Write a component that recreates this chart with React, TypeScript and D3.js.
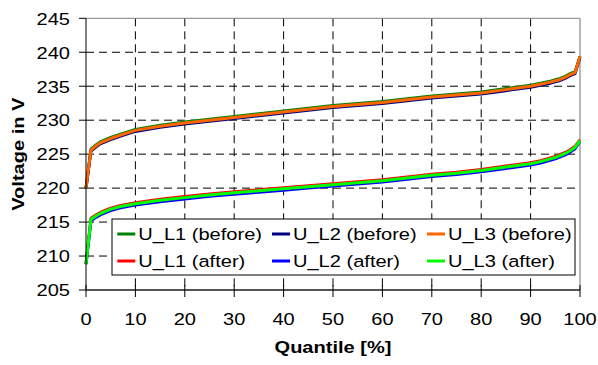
import React from 'react';
import * as d3 from 'd3';

// quantile positions [%]
const quantiles = [0, 1, 2, 3, 5, 7, 10, 15, 20, 25, 30, 35, 40, 45, 50, 55, 60, 65, 70, 75, 80, 85, 90, 92, 94, 95, 96, 97, 98, 99, 100];

// voltages in V
const uL1Before = [220.0, 225.75, 226.35, 226.85, 227.45, 227.95, 228.65, 229.25, 229.75, 230.15, 230.55, 230.95, 231.35, 231.75, 232.15, 232.45, 232.75, 233.15, 233.55, 233.85, 234.15, 234.65, 235.15, 235.45, 235.75, 235.95, 236.15, 236.45, 236.85, 237.15, 239.4];
const uL2Before = [220.0, 225.45, 226.05, 226.55, 227.15, 227.65, 228.35, 228.95, 229.45, 229.85, 230.25, 230.65, 231.05, 231.45, 231.85, 232.15, 232.45, 232.85, 233.25, 233.55, 233.85, 234.35, 234.85, 235.15, 235.45, 235.65, 235.85, 236.15, 236.55, 236.85, 239.3];
const uL3Before = [220.0, 225.6, 226.2, 226.7, 227.3, 227.8, 228.5, 229.1, 229.6, 230.0, 230.4, 230.8, 231.2, 231.6, 232.0, 232.3, 232.6, 233.0, 233.4, 233.7, 234.0, 234.5, 235.0, 235.3, 235.6, 235.8, 236.0, 236.3, 236.7, 237.0, 239.4];
const uL1After = [208.8, 215.55, 216.05, 216.45, 217.05, 217.45, 217.85, 218.35, 218.75, 219.15, 219.45, 219.75, 220.05, 220.35, 220.65, 220.95, 221.25, 221.65, 222.05, 222.35, 222.75, 223.25, 223.75, 224.05, 224.45, 224.65, 224.95, 225.25, 225.65, 226.15, 227.1];
const uL2After = [208.8, 215.2, 215.7, 216.1, 216.7, 217.1, 217.5, 218.0, 218.4, 218.8, 219.1, 219.4, 219.7, 220.0, 220.3, 220.6, 220.9, 221.3, 221.7, 222.0, 222.4, 222.9, 223.4, 223.7, 224.1, 224.3, 224.6, 224.9, 225.3, 225.8, 226.9];
const uL3After = [208.8, 215.4, 215.9, 216.3, 216.9, 217.3, 217.7, 218.2, 218.6, 219.0, 219.3, 219.6, 219.9, 220.2, 220.5, 220.8, 221.1, 221.5, 221.9, 222.2, 222.6, 223.1, 223.6, 223.9, 224.3, 224.5, 224.8, 225.1, 225.5, 226.0, 227.0];

const seriesNames = ['U_L1 (before)', 'U_L2 (before)', 'U_L3 (before)', 'U_L1 (after)', 'U_L2 (after)', 'U_L3 (after)'];
const seriesValues = [uL1Before, uL2Before, uL3Before, uL1After, uL2After, uL3After];
const seriesColors = ['#008000', '#000080', '#ff6600', '#ff0000', '#0000ff', '#00ff00'];

const xTicks = [0, 10, 20, 30, 40, 50, 60, 70, 80, 90, 100];
const yTicks = [205, 210, 215, 220, 225, 230, 235, 240, 245];

const W = 598;
const H = 365;
const FONT = '"Liberation Sans", Arial, sans-serif';
const SX = 1.18; // the original chart is stretched horizontally

export default function App() {
  const margin = { top: 18.3, right: 18, bottom: 75, left: 86 };
  const x = d3.scaleLinear().domain([0, 100]).range([margin.left, W - margin.right]);
  const y = d3.scaleLinear().domain([205, 245]).range([H - margin.bottom, margin.top]);

  const line = d3.line<number>()
    .x((_, i) => x(quantiles[i]))
    .y(d => y(d));

  const [x0, x1] = x.range();
  const [yb, yt] = y.range();

  // legend layout
  const lgLeft = 112, lgTop = 219, lgRight = 575, lgBottom = 275;
  const colX = [117.3, 272, 427];
  const rowY = [234, 261];

  return (
    <div style={{ position: 'absolute', left: 0, top: 0 }}>
      <svg width={W} height={H} style={{ display: 'block', background: '#fff' }} fontFamily={FONT}>
        {/* grid */}
        {yTicks.filter(t => t !== 205 && t !== 245).map(t => (
          <line key={'gy' + t} x1={x0} x2={x1} y1={y(t)} y2={y(t)} stroke="#000" strokeWidth={1} strokeDasharray="8,5" />
        ))}
        {xTicks.filter(t => t !== 0 && t !== 100).map(t => (
          <line key={'gx' + t} x1={x(t)} x2={x(t)} y1={yt} y2={yb} stroke="#000" strokeWidth={1} strokeDasharray="8,5" />
        ))}

        {/* plot frame */}
        <line x1={x0} x2={x1} y1={yt} y2={yt} stroke="#808080" strokeWidth={1} />
        <line x1={x1} x2={x1} y1={yt} y2={yb} stroke="#a0a0a0" strokeWidth={1.5} />

        {/* series */}
        {seriesValues.map((vals, i) => (
          <path key={seriesNames[i]} d={line(vals) || ''} fill="none" stroke={seriesColors[i]} strokeWidth={3} strokeLinejoin="round" />
        ))}

        {/* axes */}
        <line x1={x0} x2={x0} y1={yt} y2={yb} stroke="#000" strokeWidth={1} />
        <line x1={x0} x2={x1} y1={yb} y2={yb} stroke="#555" strokeWidth={2} />
        {yTicks.map(t => (
          <g key={'yt' + t}>
            <line x1={x0 - 7} x2={x0} y1={y(t)} y2={y(t)} stroke="#000" strokeWidth={1} />
            <text transform={`translate(70,${y(t) + 6.3}) scale(${SX},1)`} textAnchor="end" fontSize={17} fill="#000">{t}</text>
          </g>
        ))}
        {xTicks.map(t => (
          <g key={'xt' + t}>
            <line x1={x(t)} x2={x(t)} y1={yb - 5} y2={yb + 7} stroke="#000" strokeWidth={1} />
            <text transform={`translate(${x(t)},325) scale(${SX},1)`} textAnchor="middle" fontSize={17} fill="#000">{t}</text>
          </g>
        ))}

        {/* axis titles */}
        <text transform={`translate(${(x0 + x1) / 2},353) scale(${SX},1)`} textAnchor="middle" fontSize={17} fontWeight="bold" fill="#000">Quantile [%]</text>
        <text transform={`translate(24,${(yt + yb) / 2}) rotate(-90) scale(${SX},1)`} textAnchor="middle" fontSize={17} fontWeight="bold" fill="#000">Voltage in V</text>

        {/* legend */}
        <rect x={lgLeft} y={lgTop} width={lgRight - lgLeft} height={lgBottom - lgTop} fill="#fff" stroke="#000" strokeWidth={1} />
        {seriesNames.map((name, i) => {
          const col = i % 3;
          const row = Math.floor(i / 3);
          const sx = colX[col];
          const sy = rowY[row];
          return (
            <g key={'lg' + name}>
              <line x1={sx} x2={sx + 18} y1={sy} y2={sy} stroke={seriesColors[i]} strokeWidth={3} />
              <text transform={`translate(${sx + 21},${sy + 6.3}) scale(${SX},1)`} fontSize={17} fill="#000">{name}</text>
            </g>
          );
        })}
      </svg>
    </div>
  );
}
